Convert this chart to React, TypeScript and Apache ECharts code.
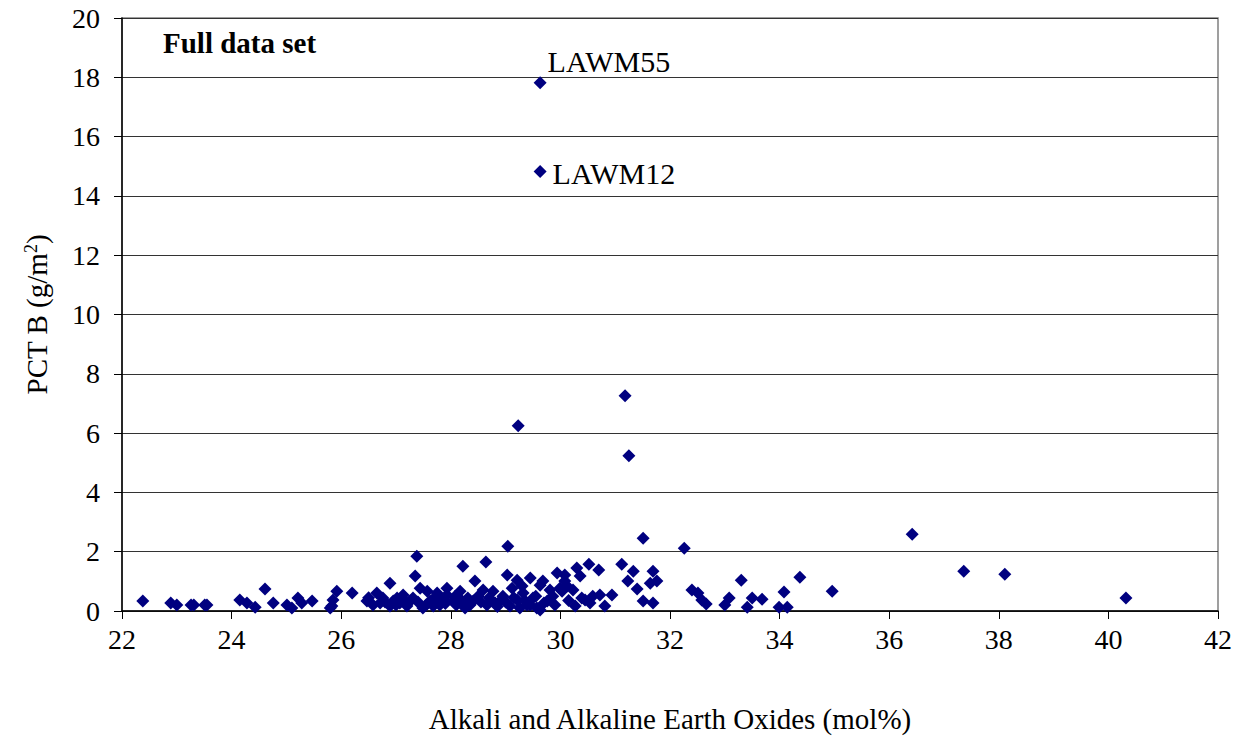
import React, { useEffect, useRef } from "react";
import * as echarts from "echarts";

const xTicks = [22, 24, 26, 28, 30, 32, 34, 36, 38, 40, 42];
const yTicks = [0, 2, 4, 6, 8, 10, 12, 14, 16, 18, 20];

const oxides = [
  22.38, 22.89, 23.0, 23.26, 23.31, 23.51, 23.55, 24.15, 24.28, 24.43, 24.61, 24.76, 25.01, 25.1, 25.21,
  25.28, 25.47, 25.8, 25.83, 25.85, 25.92, 26.2, 26.47, 26.58, 26.65, 26.71, 26.76, 26.89, 26.89, 26.95,
  27.02, 27.07, 27.13, 27.2, 27.26, 27.31, 27.35, 27.38, 27.44, 27.49, 27.57, 27.62, 27.68, 27.75, 27.8,
  27.8, 27.86, 27.93, 27.93, 28.04, 28.08, 28.17, 28.22, 28.26, 28.31, 28.41, 28.44, 28.5, 28.59, 28.64,
  28.66, 28.77, 28.81, 28.9, 28.95, 29.03, 29.04, 29.08, 29.12, 29.21, 29.21, 29.23, 29.26, 29.3, 29.32,
  29.39, 29.45, 29.5, 29.57, 29.63, 29.63, 29.68, 29.7, 29.76, 29.81, 29.86, 29.94, 29.99, 30.03, 30.08,
  30.08, 30.12, 30.23, 30.27, 30.3, 30.36, 30.39, 30.45, 30.52, 30.54, 30.59, 30.7, 30.72, 30.81, 30.94,
  31.12, 31.18, 31.23, 31.25, 31.33, 31.4, 31.51, 31.51, 31.64, 31.69, 31.69, 31.76, 32.26, 32.4, 32.51,
  32.58, 32.66, 33.0, 33.08, 33.3, 33.41, 33.5, 33.68, 33.99, 34.08, 34.14, 34.37, 34.96, 36.42, 37.36,
  38.11, 40.32,
  26.5, 26.8, 27.0, 27.15, 27.4, 27.55, 27.7, 27.9, 28.1, 28.2, 28.35, 28.55, 28.7, 28.85, 29.0,
  29.15, 29.35, 29.45, 29.55, 29.9, 30.15,
];

const pctB = [
  0.34, 0.27, 0.2, 0.2, 0.2, 0.2, 0.2, 0.37, 0.27, 0.13, 0.74, 0.27, 0.2, 0.1, 0.44,
  0.27, 0.34, 0.1, 0.17, 0.37, 0.67, 0.61, 0.34, 0.2, 0.61, 0.27, 0.44, 0.94, 0.17, 0.34,
  0.44, 0.27, 0.54, 0.17, 0.34, 0.44, 1.18, 1.85, 0.77, 0.1, 0.67, 0.34, 0.17, 0.61, 0.2,
  0.37, 0.4, 0.54, 0.77, 0.34, 0.5, 0.67, 1.51, 0.1, 0.44, 0.34, 1.01, 0.5, 0.71, 1.65,
  0.2, 0.67, 0.27, 0.34, 0.5, 1.21, 2.18, 0.17, 0.77, 1.04, 0.37, 6.25, 0.1, 0.84, 0.61,
  0.2, 1.11, 0.44, 0.1, 0.87, 0.03, 1.01, 0.27, 0.34, 0.71, 0.5, 1.28, 0.77, 0.67, 1.01,
  1.21, 0.84, 0.71, 0.17, 1.45, 1.18, 0.44, 0.37, 1.58, 0.27, 0.5, 1.38, 0.54, 0.17, 0.54,
  1.58, 7.26, 1.01, 5.24, 1.34, 0.74, 2.45, 0.34, 0.94, 1.34, 0.27, 1.01, 2.12, 0.71, 0.61,
  0.37, 0.24, 0.2, 0.44, 1.04, 0.13, 0.44, 0.4, 0.13, 0.64, 0.13, 1.14, 0.67, 2.59, 1.34,
  1.24, 0.44,
  0.45, 0.3, 0.2, 0.35, 0.3, 0.2, 0.45, 0.25, 0.2, 0.35, 0.2, 0.3, 0.45, 0.15, 0.3,
  0.45, 0.35, 0.2, 0.5, 0.2, 0.35,
];

const labelNames = ["LAWM55", "LAWM12"];
const labelX = [29.63, 29.63];
const labelY = [17.82, 14.82];

const NAVY = "#000080";
const FONT = "'Liberation Serif', 'Times New Roman', serif";

export default function App() {
  const ref = useRef<HTMLDivElement>(null);

  useEffect(() => {
    if (!ref.current) return;
    const chart = echarts.init(ref.current, null, { renderer: "svg" });
    const mainData = oxides.map((x, i) => [x, pctB[i]]);
    const labeledData = labelNames.map((n, i) => ({
      name: n,
      value: [labelX[i], labelY[i]],
      label: {
        show: true,
        position: "right",
        distance: i === 0 ? 1 : 6,
        offset: i === 0 ? [0, -21] : [0, 2],
        formatter: "{b}",
        fontFamily: FONT,
        fontSize: 30,
        color: "#000",
      },
    }));

    chart.setOption({
      animation: false,
      backgroundColor: "#fff",
      grid: {
        left: 122,
        top: 18,
        right: 28,
        bottom: 125,
        show: true,
        borderColor: "#808080",
        borderWidth: 1.5,
      },
      xAxis: {
        type: "value",
        min: xTicks[0],
        max: xTicks[xTicks.length - 1],
        interval: 2,
        name: "Alkali and Alkaline Earth Oxides (mol%)",
        nameLocation: "middle",
        nameGap: 93,
        nameTextStyle: { fontFamily: FONT, fontSize: 29, color: "#000" },
        axisLine: { show: true, onZero: false, lineStyle: { color: "#000", width: 1.5 } },
        axisTick: { show: true, inside: false, length: 8, lineStyle: { color: "#000" } },
        axisLabel: { fontFamily: FONT, fontSize: 28, color: "#000", margin: 14 },
        splitLine: { show: false },
      },
      yAxis: {
        type: "value",
        min: yTicks[0],
        max: yTicks[yTicks.length - 1],
        interval: 2,
        name: "{n|PCT B (g/m}{s|2}{n|)}",
        nameLocation: "middle",
        nameRotate: 90,
        nameGap: 70,
        nameTextStyle: {
          fontFamily: FONT,
          fontSize: 29,
          color: "#000",
          rich: {
            n: { fontFamily: FONT, fontSize: 29, color: "#000" },
            s: { fontFamily: FONT, fontSize: 18, color: "#000", verticalAlign: "top", padding: [0, 0, 12, 0] },
          },
        },
        axisLine: { show: true, lineStyle: { color: "#000", width: 1.5 } },
        axisTick: { show: true, inside: false, length: 8, lineStyle: { color: "#000" } },
        axisLabel: { fontFamily: FONT, fontSize: 28, color: "#000", margin: 22 },
        splitLine: { show: true, lineStyle: { color: "#333", width: 1 } },
      },
      graphic: [
        {
          type: "text",
          left: 163,
          top: 28,
          style: {
            text: "Full data set",
            fontFamily: FONT,
            fontSize: 29,
            fontWeight: "bold",
            fill: "#000",
          },
        },
      ],
      series: [
        {
          type: "scatter",
          symbol: "diamond",
          symbolSize: 13,
          itemStyle: { color: NAVY, opacity: 1 },
          data: mainData,
        },
        {
          type: "scatter",
          symbol: "diamond",
          symbolSize: 13,
          itemStyle: { color: NAVY, opacity: 1 },
          data: labeledData,
        },
      ],
    });
    return () => chart.dispose();
  }, []);

  return (
    <div
      ref={ref}
      style={{ position: "absolute", left: 0, top: 0, width: 1246, height: 738 }}
    />
  );
}
